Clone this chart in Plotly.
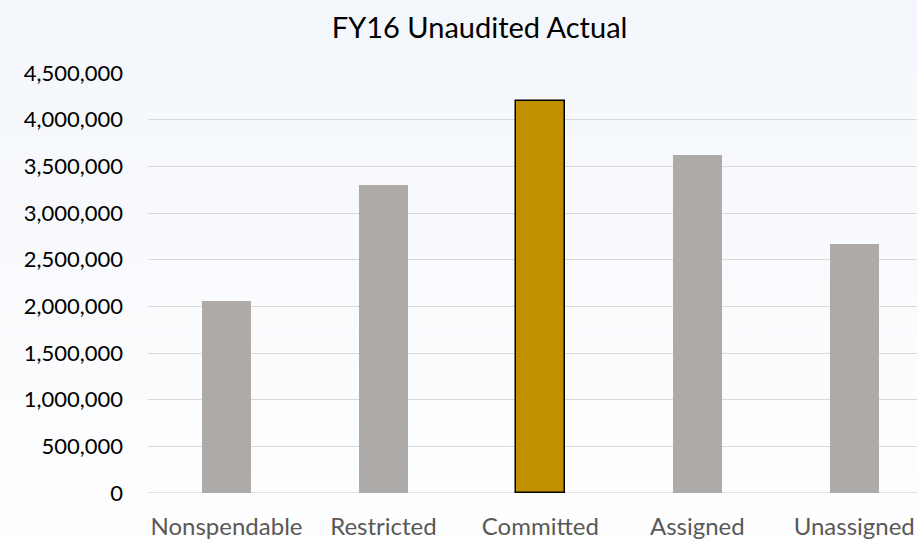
import plotly.graph_objects as go

categories = ["Nonspendable", "Restricted", "Committed", "Assigned", "Unassigned"]
values = [2057000, 3300000, 4200000, 3620000, 2665000]
bar_colors = ["#ADAAA8", "#ADAAA8", "#BF9000", "#ADAAA8", "#ADAAA8"]
line_colors = ["#ADAAA8", "#ADAAA8", "#000000", "#ADAAA8", "#ADAAA8"]
line_widths = [0, 0, 1.5, 0, 0]
y_ticks = [0, 500000, 1000000, 1500000, 2000000, 2500000, 3000000, 3500000, 4000000, 4500000]

fig = go.Figure(go.Bar(
    x=list(range(len(categories))), y=values,
    marker=dict(color=bar_colors, line=dict(color=line_colors, width=line_widths)),
    width=0.31,
))

grad = ("data:image/svg+xml;utf8,<svg xmlns='http://www.w3.org/2000/svg' width='100' height='100' preserveAspectRatio='none'>"
        "<defs><linearGradient id='g' x1='0' y1='0' x2='0' y2='1'>"
        "<stop offset='0' stop-color='%23F3F6FB'/><stop offset='1' stop-color='%23FFFFFF'/>"
        "</linearGradient></defs><rect width='100' height='100' fill='url(%23g)'/></svg>")

fig.update_layout(
    width=917, height=541,
    margin=dict(l=148, r=0, t=73, b=48),
    paper_bgcolor="rgba(0,0,0,0)",
    plot_bgcolor="rgba(0,0,0,0)",
    font=dict(family="Lato, 'Noto Sans', sans-serif", size=22, color="#000000"),
    title=dict(text="FY16 Unaudited Actual", x=0.523, xanchor="center", y=0.948, yanchor="middle",
               font=dict(size=29, color="#000000")),
    images=[dict(source=grad, xref="paper", yref="paper", x=-0.2, y=1.2, sizex=1.4, sizey=1.4,
                 xanchor="left", yanchor="top", sizing="stretch", layer="below")],
    xaxis=dict(range=[-0.5, 4.4], tickvals=list(range(len(categories))), ticktext=categories,
               showgrid=False, zeroline=False, showline=False, ticks="", ticklabelstandoff=17,
               tickfont=dict(color="#595959", size=24)),
    yaxis=dict(range=[0, 4500000], tickvals=y_ticks, tickformat=",d",
               showgrid=True, gridcolor="#D9D9D9", gridwidth=1.3, zeroline=False,
               showline=False, ticks="", ticklabelstandoff=24,
               tickfont=dict(color="#000000", size=22)),
    showlegend=False,
    bargap=0,
)
fig.add_shape(type="line", xref="paper", yref="y", x0=0, x1=1, y0=0, y1=0,
              line=dict(color="#D9D9D9", width=1.3), layer="below")

fig.write_html("out.html", config={"displayModeBar": False},
               post_script="document.body.style.margin='0';document.body.style.background='#FFFFFF';")
